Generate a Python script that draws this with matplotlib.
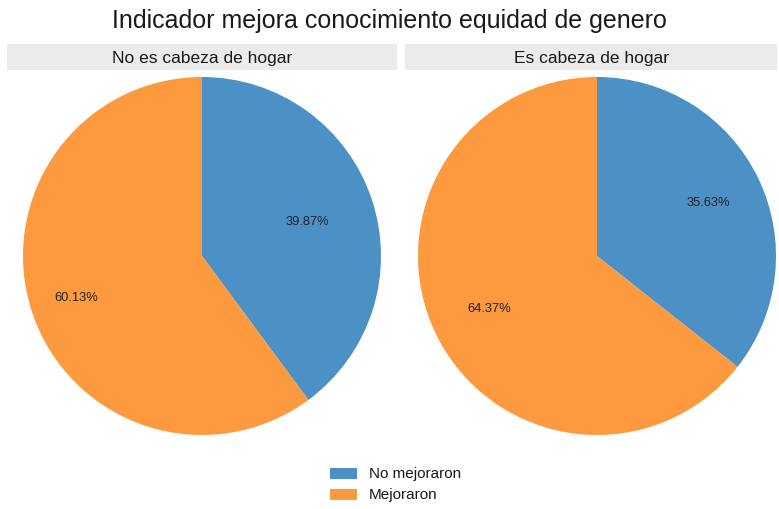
import numpy as np
import matplotlib.pyplot as plt
from matplotlib.patches import Rectangle

plt.rcParams['font.family'] = ['Liberation Sans', 'DejaVu Sans']

# datos por grupo
grupos = ['No es cabeza de hogar', 'Es cabeza de hogar']
categorias = ['No mejoraron', 'Mejoraron']
no_mejoraron = [39.87, 35.63]
mejoraron = [60.13, 64.37]

colores = ['#4b91c6', '#fd9a3f']
W, H = 779, 510

fig = plt.figure(figsize=(W / 100, H / 100), dpi=100)

def fx(px):
    return px / W

def fy(py):
    return 1 - py / H

# panel (izquierda, derecha) de cada faceta, en pixeles
tiras = [(7, 397), (405, 777)]
centros = [202, 597]
cy, radio = 257, 179
dist_txt = [(0.62, 0.74), (0.69, 0.67)]

for i, grupo in enumerate(grupos):
    x0, x1 = tiras[i]
    fig.patches.append(Rectangle((fx(x0), fy(71)), fx(x1 - x0), 26 / H,
                                 transform=fig.transFigure, facecolor='#ebebeb',
                                 edgecolor='none'))
    fig.text(fx((x0 + x1) / 2), fy(58), grupo, ha='center', va='center',
             fontsize=12.5, color='#1a1a1a')

    cx = centros[i]
    ax = fig.add_axes([fx(cx - radio), fy(cy + radio), 2 * radio / W, 2 * radio / H])
    vals = [no_mejoraron[i], mejoraron[i]]
    ax.pie(vals, colors=colores, startangle=90, counterclock=False,
           wedgeprops=dict(linewidth=0))
    ang0 = 90
    for v, d in zip(vals, dist_txt[i]):
        mid = np.deg2rad(ang0 - v * 3.6 / 2)
        ax.text(d * np.cos(mid), d * np.sin(mid), f'{v:.2f}%', ha='center',
                va='center', fontsize=9.3, color='#222222')
        ang0 -= v * 3.6
    ax.set_xlim(-1, 1)
    ax.set_ylim(-1, 1)
    ax.set_aspect('equal')
    ax.axis('off')

fig.text(0.5, fy(21), 'Indicador mejora conocimiento equidad de genero',
         ha='center', va='center', fontsize=18, color='#1a1a1a')

# leyenda
for j, cat in enumerate(categorias):
    ytop = 469 + j * 21
    fig.patches.append(Rectangle((fx(330), fy(ytop + 11)), fx(27), 11 / H,
                                 transform=fig.transFigure, facecolor=colores[j],
                                 edgecolor='none'))
    fig.text(fx(369), fy(ytop + 5.5), cat, ha='left', va='center', fontsize=11,
             color='#1a1a1a')

fig.savefig('out.png', dpi=100)
